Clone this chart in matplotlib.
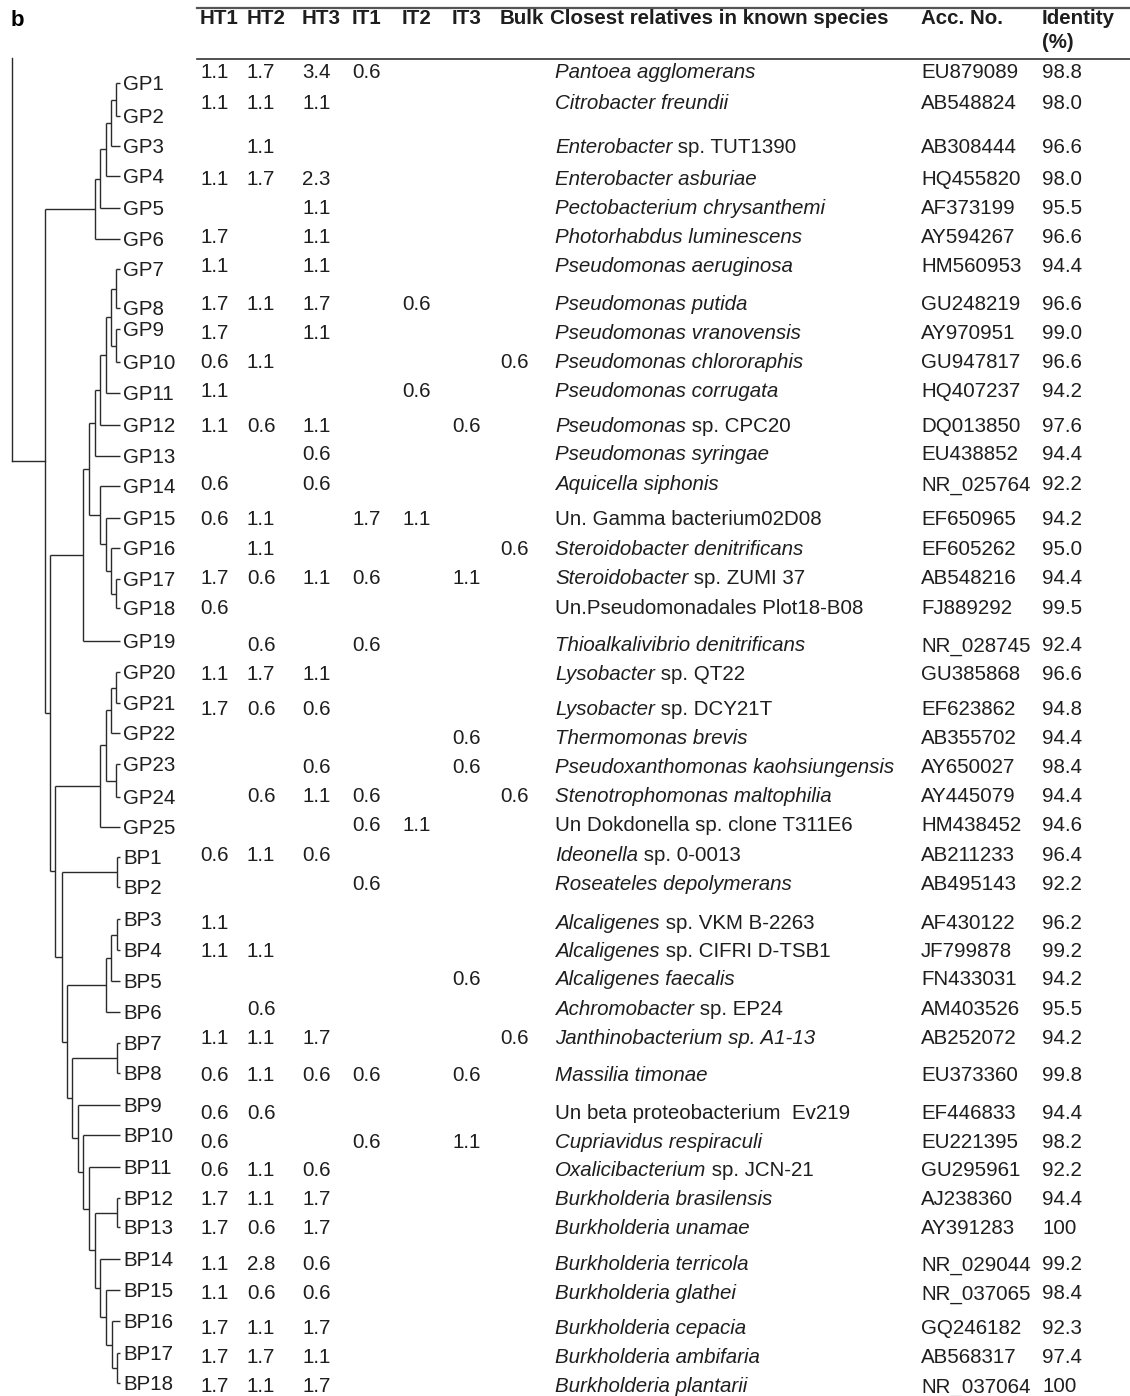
import matplotlib
matplotlib.use("Agg")
import matplotlib.pyplot as plt

plt.rcParams['font.family'] = ['Liberation Sans', 'DejaVu Sans']

# OTU names in tree order
otus = ['GP%d' % i for i in range(1, 26)] + ['BP%d' % i for i in range(1, 19)]

# relative abundance (%) per library, '' = not detected
ht1 = ['1.1', '1.1', '', '1.1', '', '1.7', '1.1', '1.7', '1.7', '0.6', '1.1', '1.1', '', '0.6',
       '0.6', '', '1.7', '0.6', '', '1.1', '1.7', '', '', '', '',
       '0.6', '', '1.1', '1.1', '', '', '1.1', '0.6', '0.6', '0.6', '0.6', '1.7', '1.7', '1.1',
       '1.1', '1.7', '1.7', '1.7']
ht2 = ['1.7', '1.1', '1.1', '1.7', '', '', '', '1.1', '', '1.1', '', '0.6', '', '',
       '1.1', '1.1', '0.6', '', '0.6', '1.7', '0.6', '', '', '0.6', '',
       '1.1', '', '', '1.1', '', '0.6', '1.1', '1.1', '0.6', '', '1.1', '1.1', '0.6', '2.8',
       '0.6', '1.1', '1.7', '1.1']
ht3 = ['3.4', '1.1', '', '2.3', '1.1', '1.1', '1.1', '1.7', '1.1', '', '', '1.1', '0.6', '0.6',
       '', '', '1.1', '', '', '1.1', '0.6', '', '0.6', '1.1', '',
       '0.6', '', '', '', '', '', '1.7', '0.6', '', '', '0.6', '1.7', '1.7', '0.6',
       '0.6', '1.7', '1.1', '1.7']
it1 = ['0.6', '', '', '', '', '', '', '', '', '', '', '', '', '',
       '1.7', '', '0.6', '', '0.6', '', '', '', '', '0.6', '0.6',
       '', '0.6', '', '', '', '', '', '0.6', '', '0.6', '', '', '', '',
       '', '', '', '']
it2 = ['', '', '', '', '', '', '', '0.6', '', '', '0.6', '', '', '',
       '1.1', '', '', '', '', '', '', '', '', '', '1.1',
       '', '', '', '', '', '', '', '', '', '', '', '', '', '',
       '', '', '', '']
it3 = ['', '', '', '', '', '', '', '', '', '', '', '0.6', '', '',
       '', '', '1.1', '', '', '', '', '0.6', '0.6', '', '',
       '', '', '', '', '0.6', '', '', '0.6', '', '1.1', '', '', '', '',
       '', '', '', '']
bulk = ['', '', '', '', '', '', '', '', '', '0.6', '', '', '', '',
        '', '0.6', '', '', '', '', '', '', '', '0.6', '',
        '', '', '', '', '', '', '0.6', '', '', '', '', '', '', '',
        '', '', '', '']

# closest relative: italic part + roman part
species_it = ['Pantoea agglomerans', 'Citrobacter freundii', 'Enterobacter', 'Enterobacter asburiae',
              'Pectobacterium chrysanthemi', 'Photorhabdus luminescens', 'Pseudomonas aeruginosa',
              'Pseudomonas putida', 'Pseudomonas vranovensis', 'Pseudomonas chlororaphis',
              'Pseudomonas corrugata', 'Pseudomonas', 'Pseudomonas syringae', 'Aquicella siphonis',
              '', 'Steroidobacter denitrificans', 'Steroidobacter', '',
              'Thioalkalivibrio denitrificans', 'Lysobacter', 'Lysobacter', 'Thermomonas brevis',
              'Pseudoxanthomonas kaohsiungensis', 'Stenotrophomonas maltophilia', '',
              'Ideonella', 'Roseateles depolymerans', 'Alcaligenes', 'Alcaligenes',
              'Alcaligenes faecalis', 'Achromobacter', 'Janthinobacterium sp. A1-13',
              'Massilia timonae', '', 'Cupriavidus respiraculi', 'Oxalicibacterium',
              'Burkholderia brasilensis', 'Burkholderia unamae', 'Burkholderia terricola',
              'Burkholderia glathei', 'Burkholderia cepacia', 'Burkholderia ambifaria',
              'Burkholderia plantarii']
species_rm = ['', '', ' sp. TUT1390', '', '', '', '', '', '', '', '', ' sp. CPC20', '', '',
              'Un. Gamma bacterium02D08', '', ' sp. ZUMI 37', 'Un.Pseudomonadales Plot18-B08',
              '', ' sp. QT22', ' sp. DCY21T', '', '', '', 'Un Dokdonella sp. clone T311E6',
              ' sp. 0-0013', '', ' sp. VKM B-2263', ' sp. CIFRI D-TSB1', '', ' sp. EP24', '',
              '', 'Un beta proteobacterium  Ev219', '', ' sp. JCN-21', '', '', '', '', '', '', '']
acc_no = ['EU879089', 'AB548824', 'AB308444', 'HQ455820', 'AF373199', 'AY594267', 'HM560953',
          'GU248219', 'AY970951', 'GU947817', 'HQ407237', 'DQ013850', 'EU438852', 'NR_025764',
          'EF650965', 'EF605262', 'AB548216', 'FJ889292', 'NR_028745', 'GU385868', 'EF623862',
          'AB355702', 'AY650027', 'AY445079', 'HM438452',
          'AB211233', 'AB495143', 'AF430122', 'JF799878', 'FN433031', 'AM403526', 'AB252072',
          'EU373360', 'EF446833', 'EU221395', 'GU295961', 'AJ238360', 'AY391283', 'NR_029044',
          'NR_037065', 'GQ246182', 'AB568317', 'NR_037064']
identity = ['98.8', '98.0', '96.6', '98.0', '95.5', '96.6', '94.4', '96.6', '99.0', '96.6', '94.2',
            '97.6', '94.4', '92.2', '94.2', '95.0', '94.4', '99.5', '92.4', '96.6', '94.8', '94.4',
            '98.4', '94.4', '94.6',
            '96.4', '92.2', '96.2', '99.2', '94.2', '95.5', '94.2', '99.8', '94.4', '98.2', '92.2',
            '94.4', '100', '99.2', '98.4', '92.3', '97.4', '100']

# dendrogram: (node depth, [children]); leaves are OTU names
tree = (45, [
    (95, [(100, [(106, [(111, [(116, ['GP1', 'GP2']), 'GP3']), 'GP4']), 'GP5']), 'GP6']),
    (50, [
        (83, [(89, [(95, [(100, [(106, [(111, [(116, ['GP7', 'GP8']), (116, ['GP9', 'GP10'])]),
                                        'GP11']), 'GP12']), 'GP13']),
                    (100, ['GP14', (106, ['GP15', (111, ['GP16', (116, ['GP17', 'GP18'])])])])]),
              'GP19']),
        (55, [
            (100, [(106, [(111, [(116, ['GP20', 'GP21']), 'GP22']), (116, ['GP23', 'GP24'])]), 'GP25']),
            (62, [(117, ['BP1', 'BP2']),
                  (67, [(106, [(111, [(117, ['BP3', 'BP4']), 'BP5']), 'BP6']),
                        (72, [(117, ['BP7', 'BP8']),
                              (78, ['BP9', (83, ['BP10', (89, ['BP11', (95, [(117, ['BP12', 'BP13']),
                                  (100, ['BP14', (106, ['BP15', (112, ['BP16', (117, ['BP17', 'BP18'])])])])])])])])])])]),
        ]),
    ]),
])

# vertical placement of tree tips and of table rows (figure pixels)
tip_y = [83, 116, 146, 176, 208, 239, 269, 308, 329, 362, 393, 425, 456, 486, 518, 548, 579, 608,
         641, 672, 703, 733, 764, 797, 827, 857, 887, 919, 950, 981, 1012, 1043, 1073, 1105, 1135,
         1167, 1198, 1227, 1259, 1290, 1321, 1353, 1383]
row_y = [71, 102, 146, 178, 207, 236, 265, 303, 332, 361, 390, 425, 453, 483, 518, 548, 577, 607,
         644, 673, 708, 737, 766, 795, 824, 854, 883, 922, 950, 978, 1008, 1037, 1074, 1112, 1141,
         1169, 1198, 1227, 1263, 1292, 1327, 1356, 1385]

W, H = 1130, 1396
fig = plt.figure(figsize=(W / 100, H / 100), dpi=100)
ax = fig.add_axes([0, 0, 1, 1])
ax.set_xlim(0, W)
ax.set_ylim(H, 0)
ax.axis('off')

FS = 14.8
TC = '#1e1e1e'
LC = '#2a2a2a'
LW = 1.0
TIP_X = 120
HALF_CAP = 7.3
ypos = dict(zip(otus, tip_y))


def draw(node):
    if isinstance(node, str):
        return TIP_X, ypos[node]
    depth, kids = node
    pts = [draw(k) for k in kids]
    ys = [p[1] for p in pts]
    ax.plot([depth, depth], [min(ys), max(ys)], color=LC, lw=LW, solid_capstyle='butt')
    for x, y in pts:
        ax.plot([depth, x], [y, y], color=LC, lw=LW, solid_capstyle='butt')
    return depth, (min(ys) + max(ys)) / 2


rx, ry = draw(tree)
# root stem
ax.plot([12, 12], [58, ry], color=LC, lw=LW)
ax.plot([12, rx], [ry, ry], color=LC, lw=LW)

for name, y in zip(otus, tip_y):
    ax.text(TIP_X + 3, y + HALF_CAP, name, fontsize=FS, va='baseline', ha='left', color=TC)

# table header
ax.text(17, 20, 'b', fontsize=16, fontweight='bold', va='center', ha='center')
ax.plot([197, W], [8, 8], color='#555555', lw=1.6)
ax.plot([197, W], [59, 59], color='#333333', lw=1.2)

col_x = [200, 247, 302, 352, 402, 452, 500]
headers = ['HT1', 'HT2', 'HT3', 'IT1', 'IT2', 'IT3', 'Bulk']
HY = 17 + HALF_CAP
for x, h in zip(col_x, headers):
    ax.text(x, HY, h, fontsize=FS, fontweight='bold', va='baseline', ha='left', color=TC)
ax.text(550, HY, 'Closest relatives in known species', fontsize=FS, fontweight='bold',
        va='baseline', ha='left', color=TC)
ACC_X, ID_X = 921, 1042
ax.text(ACC_X, HY, 'Acc. No.', fontsize=FS, fontweight='bold', va='baseline', ha='left', color=TC)
ax.text(ID_X, HY, 'Identity', fontsize=FS, fontweight='bold', va='baseline', ha='left', color=TC)
ax.text(ID_X, 41 + HALF_CAP, '(%)', fontsize=FS, fontweight='bold', va='baseline', ha='left',
        color=TC)

# table body
cols = [ht1, ht2, ht3, it1, it2, it3, bulk]
fig.canvas.draw()
renderer = fig.canvas.get_renderer()
inv = ax.transData.inverted()
for i, y in enumerate(row_y):
    base = y + HALF_CAP
    for x, col in zip(col_x, cols):
        if col[i]:
            ax.text(x, base, col[i], fontsize=FS, va='baseline', ha='left', color=TC)
    sx = 555
    if species_it[i]:
        t = ax.text(sx, base, species_it[i], fontsize=FS, style='italic', va='baseline',
                    ha='left', color=TC)
        bb = t.get_window_extent(renderer)
        sx = inv.transform((bb.x1, 0))[0]
    if species_rm[i]:
        ax.text(sx, base, species_rm[i], fontsize=FS, va='baseline', ha='left', color=TC)
    ax.text(ACC_X, base, acc_no[i], fontsize=FS, va='baseline', ha='left', color=TC)
    ax.text(ID_X, base, identity[i], fontsize=FS, va='baseline', ha='left', color=TC)

fig.savefig('out.png', dpi=100)
